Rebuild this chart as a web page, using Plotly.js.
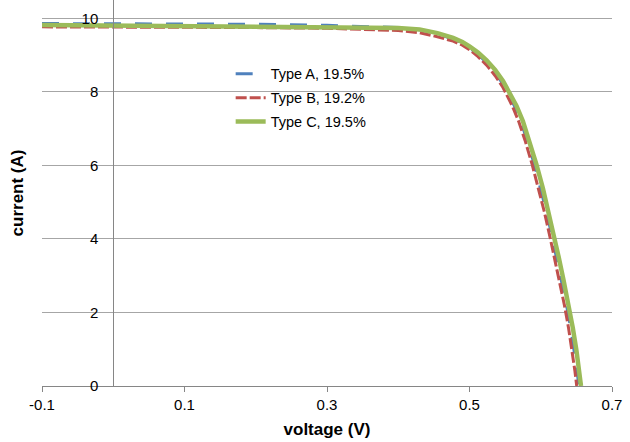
<!DOCTYPE html>
<html>
<head>
<meta charset="utf-8">
<script src="https://cdn.plot.ly/plotly-3.0.1.min.js"></script>
<style>html,body{margin:0;padding:0;background:#fff;}#chart{width:630px;height:442px;}</style>
</head>
<body>
<div id="chart"></div>
<script>
// Type A, 19.5%
var voltageA = [-0.1, 0.0, 0.1, 0.2, 0.3, 0.35, 0.40, 0.43, 0.455, 0.477, 0.49, 0.50, 0.512, 0.524, 0.536, 0.547, 0.554, 0.563, 0.572, 0.581, 0.591, 0.600, 0.608, 0.615, 0.622, 0.629, 0.636, 0.642, 0.647, 0.651, 0.6535];
var currentA = [9.86, 9.86, 9.85, 9.84, 9.81, 9.79, 9.75, 9.69, 9.58, 9.44, 9.33, 9.20, 9.02, 8.80, 8.53, 8.21, 7.97, 7.62, 7.20, 6.68, 6.02, 5.38, 4.74, 4.14, 3.52, 2.88, 2.22, 1.58, 0.98, 0.40, 0.0];
// Type B, 19.2%
var voltageB = [-0.1, 0.0, 0.1, 0.2, 0.3, 0.35, 0.40, 0.43, 0.455, 0.477, 0.49, 0.50, 0.512, 0.524, 0.536, 0.547, 0.551, 0.560, 0.569, 0.578, 0.588, 0.597, 0.605, 0.612, 0.619, 0.626, 0.633, 0.639, 0.644, 0.648, 0.6505];
var currentB = [9.77, 9.77, 9.76, 9.75, 9.73, 9.71, 9.67, 9.61, 9.50, 9.38, 9.27, 9.15, 8.96, 8.73, 8.44, 8.12, 7.97, 7.62, 7.20, 6.68, 6.02, 5.38, 4.74, 4.14, 3.52, 2.88, 2.22, 1.58, 0.98, 0.40, 0.0];
// Type C, 19.5%
var voltageC = [-0.1, 0.0, 0.1, 0.2, 0.3, 0.35, 0.40, 0.43, 0.455, 0.477, 0.49, 0.50, 0.512, 0.524, 0.536, 0.547, 0.557, 0.566, 0.575, 0.584, 0.594, 0.603, 0.611, 0.618, 0.625, 0.632, 0.639, 0.645, 0.650, 0.654, 0.6565];
var currentC = [9.82, 9.81, 9.80, 9.79, 9.77, 9.76, 9.74, 9.70, 9.60, 9.47, 9.36, 9.24, 9.07, 8.86, 8.60, 8.30, 7.97, 7.62, 7.20, 6.68, 6.02, 5.38, 4.74, 4.14, 3.52, 2.88, 2.22, 1.58, 0.98, 0.40, 0.0];

var seriesNames = ['Type A, 19.5%', 'Type B, 19.2%', 'Type C, 19.5%'];
var xTickVals = [-0.1, 0.1, 0.3, 0.5, 0.7];
var xTickText = ['-0.1', '0.1', '0.3', '0.5', '0.7'];
var yTickVals = [0, 2, 4, 6, 8, 10];
var yTickText = ['0', '2', '4', '6', '8', '10'];

var font = 'Liberation Sans, Arial, sans-serif';

var traces = [
  {x: voltageA, y: currentA, name: seriesNames[0], legendgroup: 'a', mode: 'lines', type: 'scatter',
   line: {color: '#4F81BD', width: 3, dash: '17px,14px'}},
  {x: voltageB, y: currentB, name: seriesNames[1], legendgroup: 'b', mode: 'lines', type: 'scatter',
   line: {color: '#C0504D', width: 3, dash: '11px,3px'}},
  {x: voltageC, y: currentC, name: seriesNames[2], legendgroup: 'c', mode: 'lines', type: 'scatter',
   line: {color: '#9BBB59', width: 4.5}}
];

var layout = {
  width: 630, height: 442,
  margin: {l: 42, r: 18, t: 0, b: 56},
  paper_bgcolor: '#ffffff', plot_bgcolor: '#ffffff',
  font: {family: font, size: 15, color: '#000'},
  showlegend: true,
  legend: {x: 0.331, y: 0.85, xanchor: 'left', yanchor: 'top', bgcolor: 'rgba(0,0,0,0)',
           tracegroupgap: 2, font: {family: font, size: 14.5, color: '#000'}},
  xaxis: {
    range: [-0.1, 0.7], tickvals: xTickVals, ticktext: xTickText,
    showgrid: false, zeroline: false, showline: true, linecolor: '#868686', linewidth: 1,
    ticks: 'outside', ticklen: 5, tickcolor: '#868686',
    tickfont: {family: font, size: 15, color: '#000'},
    title: {text: '<b>voltage (V)</b>', font: {family: font, size: 17, color: '#000'}, standoff: 11}
  },
  yaxis: {
    range: [0, 10.5], tickvals: yTickVals, ticktext: yTickText,
    anchor: 'free', position: 0.125,
    showgrid: true, gridcolor: '#a6a6a6', gridwidth: 1, zeroline: false,
    showline: true, linecolor: '#868686', linewidth: 1,
    ticks: 'outside', ticklen: 12, tickcolor: 'rgba(0,0,0,0)',
    tickfont: {family: font, size: 15, color: '#000'},
    title: {text: '<b>current (A)</b>', font: {family: font, size: 17, color: '#000'}, standoff: 52}
  }
};

Plotly.newPlot('chart', traces, layout, {displayModeBar: false, staticPlot: true});
</script>
</body>
</html>
